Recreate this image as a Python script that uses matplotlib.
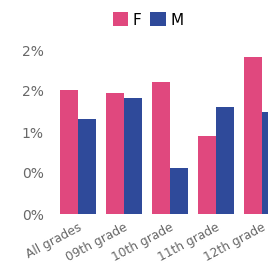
import numpy as np
import matplotlib.pyplot as plt
from matplotlib.ticker import FuncFormatter

grades = ["All grades", "09th grade", "10th grade", "11th grade", "12th grade"]
f_vals = [1.51, 1.48, 1.61, 0.95, 1.91]
m_vals = [1.16, 1.41, 0.56, 1.30, 1.24]

PINK = "#E0487E"
BLUE = "#2F4A9A"
GREY = "#686868"

W, H = 268, 277
fig = plt.figure(figsize=(W / 100, H / 100), dpi=100)
# axes runs past the right edge, the reference is cropped there
ax = fig.add_axes([55 / W, 1 - 214 / H, 230 / W, 164 / H])

x = np.arange(len(grades))
bw = 0.39
ax.bar(x - bw / 2, f_vals, bw, color=PINK, label="F")
ax.bar(x + bw / 2, m_vals, bw, color=BLUE, label="M")

ax.set_xlim(-0.5, len(grades) - 0.5)
ax.set_ylim(0, 2.0)
ax.set_yticks([0, 0.5, 1.0, 1.5, 2.0])
ax.yaxis.set_major_formatter(FuncFormatter(lambda v, p: f"{v:.0f}%"))

for s in ax.spines.values():
    s.set_visible(False)
ax.tick_params(length=0, colors=GREY)
ax.tick_params(axis="y", pad=8, labelsize=10)
ax.set_xticks(x)
ax.set_xticklabels(grades, rotation=28, ha="right", rotation_mode="anchor")
ax.tick_params(axis="x", pad=5, labelsize=8.8)

fig.legend(loc="center", bbox_to_anchor=(148 / W, 1 - 20 / H), ncol=2,
           frameon=False, fontsize=11, handlelength=1.0, handleheight=1.0,
           handletextpad=0.3, columnspacing=0.6)

fig.savefig("out.png", dpi=100)
